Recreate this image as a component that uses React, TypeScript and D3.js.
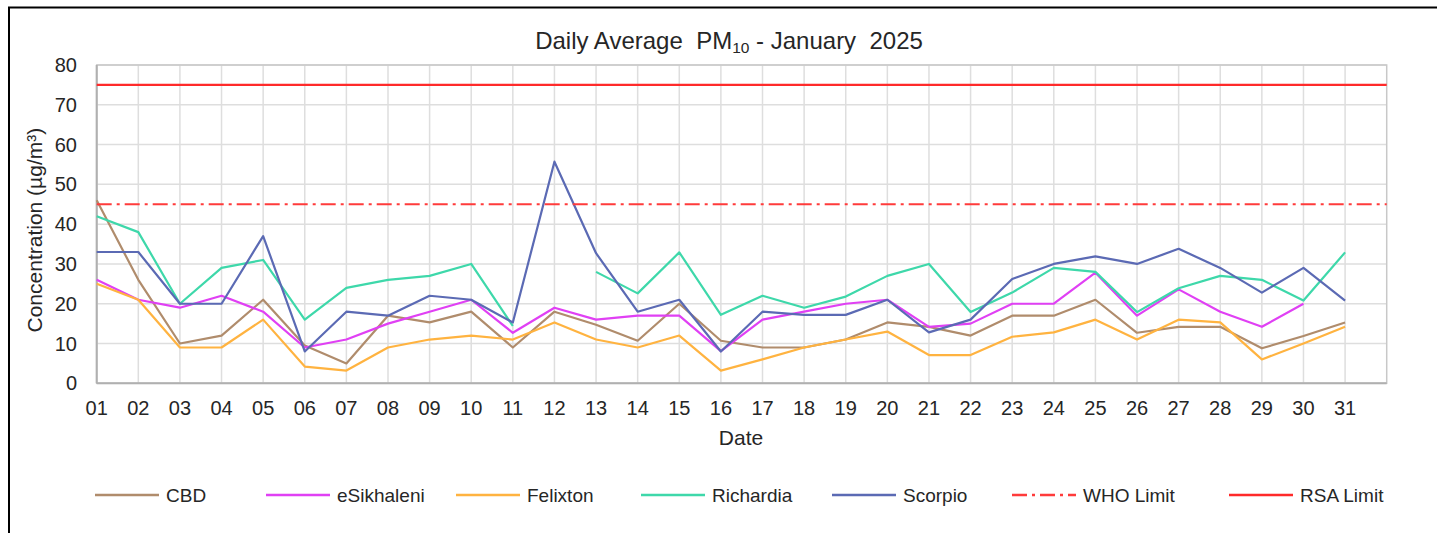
import React from "react";
import * as d3 from "d3";

const days = d3.range(1, 32);
const dayLabels = days.map((d) => String(d).padStart(2, "0"));
const yTicks = [0, 10, 20, 30, 40, 50, 60, 70, 80];

const cbd = [46, 26, 10, 12, 21, 9.5, 5, 17, 15.3, 18, 9, 18, 14.7, 10.7, 20, 10.7, 9, 9, 11, 15.3, 14.2, 12, 17, 17, 21, 12.7, 14.2, 14.2, 8.8, 11.9, 15.3];
const esikhaleni = [26, 21, 19, 22, 18, 9, 11, 15, 18, 21, 12.7, 19, 16, 17, 17, 8.1, 16, 18, 20, 21, 14.2, 15, 20, 20, 27.8, 17, 23.6, 18, 14.2, 20, null];
const felixton = [25, 21, 9, 9, 16, 4.2, 3.2, 9, 11, 12, 11, 15.3, 11, 9, 12, 3.2, 6, 9, 11, 13, 7.1, 7.1, 11.7, 12.8, 16, 11, 16, 15.3, 6, 10, 14.2];
const richardia = [42, 38, 20, 29, 31, 16, 24, 26, 27, 30, 14.4, null, 28, 22.6, 32.9, 17.2, 22, 19, 21.8, 27, 30, 17.9, 22.8, 29, 28, 17.9, 23.9, 27, 26, 20.8, 32.9];
const scorpio = [33, 33, 20, 20, 37, 8, 18, 17, 22, 21, 15.3, 55.7, 32.7, 18, 21, 8, 18, 17.2, 17.2, 21, 12.8, 16, 26.2, 30, 31.9, 30, 33.8, 29, 22.8, 29, 20.8];
const whoLimit = 45;
const rsaLimit = 75;

const seriesNames = ["CBD", "eSikhaleni", "Felixton", "Richardia", "Scorpio"];
const seriesValues = [cbd, esikhaleni, felixton, richardia, scorpio];
const seriesColors = ["#b08c6c", "#e040f4", "#ffb340", "#3ed8aa", "#5b6ab4"];

const W = 1437;
const H = 533;
const L = 96.7;
const R = 1386.7;
const T = 65;
const B = 383.3;
const FONT = "'Liberation Sans', Arial, sans-serif";
const TXT = "#262626";
const WHO_DASH = "15,5,3,5";

export default function App() {
  const x = d3.scaleLinear().domain([1, 32]).range([L, R]);
  const y = d3.scaleLinear().domain([0, 80]).range([B, T]);
  const line = d3
    .line<number | null>()
    .defined((d) => d != null)
    .x((_, i) => x(days[i]))
    .y((d) => y(d as number));

  const legendItems = [
    { name: "CBD", color: seriesColors[0], lx: 95, dash: "" },
    { name: "eSikhaleni", color: seriesColors[1], lx: 266, dash: "" },
    { name: "Felixton", color: seriesColors[2], lx: 456, dash: "" },
    { name: "Richardia", color: seriesColors[3], lx: 641, dash: "" },
    { name: "Scorpio", color: seriesColors[4], lx: 832, dash: "" },
    { name: "WHO Limit", color: "#ff3b3b", lx: 1012, dash: WHO_DASH },
    { name: "RSA Limit", color: "#ff2a2a", lx: 1229, dash: "" },
  ];

  return (
    <svg width={W} height={H} style={{ position: "absolute", left: 0, top: 0, background: "#fff" }}>
      <rect x={0} y={0} width={W} height={H} fill="#fff" />
      <rect x={9} y={7.5} width={W + 20} height={H + 20} fill="none" stroke="#000" strokeWidth={2} />
      <text x={729} y={49} textAnchor="middle" fontFamily={FONT} fontSize={24} fill={TXT}>
        Daily Average{"\u00a0\u00a0"}PM
        <tspan fontSize={15.5} dy={4}>10</tspan>
        <tspan dy={-4}>{" - January\u00a0\u00a02025"}</tspan>
      </text>
      {yTicks.map((t) => (
        <line key={"h" + t} x1={L} x2={R} y1={y(t)} y2={y(t)} stroke="#dedede" strokeWidth={1.5} />
      ))}
      {days.map((d) => (
        <line key={"v" + d} x1={x(d)} x2={x(d)} y1={T} y2={B} stroke="#dedede" strokeWidth={1.5} />
      ))}
      <rect x={L} y={T} width={R - L} height={B - T} fill="none" stroke="#c8c8c8" strokeWidth={1.5} />
      <line x1={L} x2={L} y1={T} y2={B} stroke="#b0b0b0" strokeWidth={2} />
      <line x1={L} x2={R} y1={B} y2={B} stroke="#b0b0b0" strokeWidth={2} />
      {yTicks.map((t) => (
        <text key={"yt" + t} x={77} y={y(t) + 7} textAnchor="end" fontFamily={FONT} fontSize={20} fill={TXT}>
          {t}
        </text>
      ))}
      {days.map((d, i) => (
        <text key={"xt" + d} x={x(d)} y={415} textAnchor="middle" fontFamily={FONT} fontSize={20} fill={TXT}>
          {dayLabels[i]}
        </text>
      ))}
      <text x={741} y={445} textAnchor="middle" fontFamily={FONT} fontSize={21} fill={TXT}>
        Date
      </text>
      <text
        transform={`translate(42,${(T + B) / 2 + 6}) rotate(-90)`}
        textAnchor="middle"
        fontFamily={FONT}
        fontSize={21}
        fill={TXT}
      >
        Concentration (µg/m³)
      </text>
      {seriesValues.map((vals, i) => (
        <path key={seriesNames[i]} d={line(vals) || ""} fill="none" stroke={seriesColors[i]} strokeWidth={2.2} strokeLinejoin="round" />
      ))}
      <line x1={L} x2={R} y1={y(whoLimit)} y2={y(whoLimit)} stroke="#ff3b3b" strokeWidth={2.2} strokeDasharray={WHO_DASH} />
      <line x1={L} x2={R} y1={y(rsaLimit)} y2={y(rsaLimit)} stroke="#ff2a2a" strokeWidth={2.4} />
      {legendItems.map((it) => (
        <g key={it.name}>
          <line x1={it.lx} x2={it.lx + 64} y1={495} y2={495} stroke={it.color} strokeWidth={2.4} strokeDasharray={it.dash || undefined} />
          <text x={it.lx + 71} y={502} fontFamily={FONT} fontSize={19} fill={TXT}>
            {it.name}
          </text>
        </g>
      ))}
    </svg>
  );
}
